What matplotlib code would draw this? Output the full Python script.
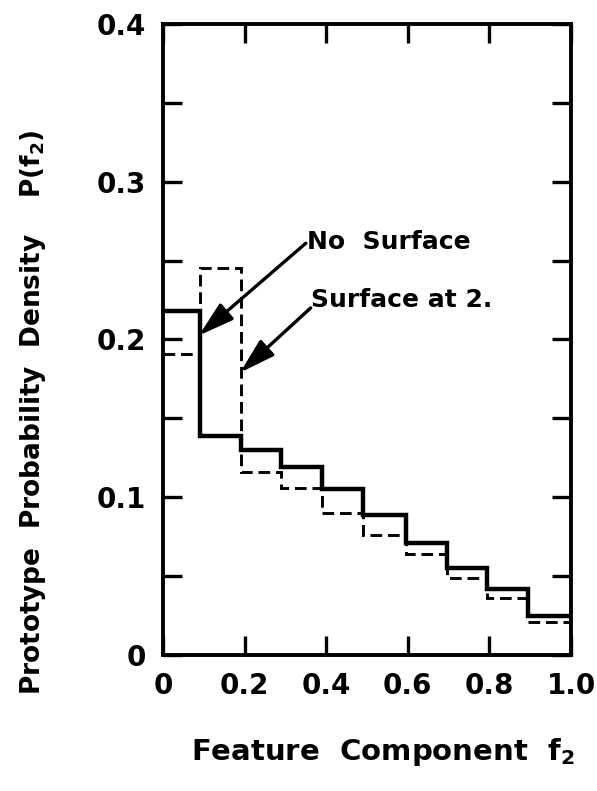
import matplotlib
matplotlib.use('Agg')
import matplotlib.pyplot as plt

plt.rcParams['font.family'] = ['DejaVu Sans']
plt.rcParams['font.weight'] = 'bold'
plt.rcParams['mathtext.fontset'] = 'dejavusans'
plt.rcParams['mathtext.default'] = 'bf'

# bin edges (hand drawn, so slightly uneven)
bin_edges = [0.0, 0.09, 0.19, 0.29, 0.39, 0.49, 0.595, 0.695, 0.795, 0.895, 1.0]
no_surface = [0.218, 0.139, 0.130, 0.119, 0.105, 0.089, 0.071, 0.055, 0.042, 0.025]
surface_at_2 = [0.191, 0.245, 0.116, 0.106, 0.090, 0.076, 0.064, 0.049, 0.036, 0.021]

x_ticks = [0, 0.2, 0.4, 0.6, 0.8, 1.0]
x_labels = ['0', '0.2', '0.4', '0.6', '0.8', '1.0']
y_ticks = [0, 0.1, 0.2, 0.3, 0.4]
y_labels = ['0', '0.1', '0.2', '0.3', '0.4']
y_minor = [0.05, 0.15, 0.25, 0.35]

fig = plt.figure(figsize=(5.97, 7.91), dpi=100)
ax = fig.add_axes([0.273, 0.172, 0.6835, 0.7977])

ax.stairs(no_surface, bin_edges, baseline=None, color='black', lw=3.2)
ax.stairs(surface_at_2, bin_edges, baseline=None, color='black', lw=2.1,
          linestyle=(0, (4, 2)))

ax.set_xlim(0, 1.0)
ax.set_ylim(0, 0.4)
ax.set_xticks(x_ticks)
ax.set_xticklabels(x_labels)
ax.set_yticks(y_ticks)
ax.set_yticklabels(y_labels)
ax.set_yticks(y_minor, minor=True)

for s in ax.spines.values():
    s.set_linewidth(2.8)

ax.tick_params(axis='both', which='both', direction='in', length=14, width=2.4,
               top=True, right=True, labelsize=20, pad=12)

# annotations
arrow = dict(arrowstyle='-|>,head_length=0.68,head_width=0.2', color='black',
             lw=2.4, mutation_scale=32, shrinkA=0, shrinkB=0)
ax.annotate('', xy=(0.088, 0.2025), xytext=(0.350, 0.261), arrowprops=arrow)
ax.annotate('', xy=(0.189, 0.179), xytext=(0.362, 0.220), arrowprops=arrow)
ax.text(0.352, 0.262, 'No  Surface', fontsize=18, va='center', ha='left')
ax.text(0.362, 0.225, 'Surface at 2.', fontsize=18, va='center', ha='left')

fig.text(383 / 597, 1 - 752 / 791, 'Feature  Component  f$_2$', fontsize=21,
         ha='center', va='center')
fig.text(33 / 597, 1 - 412 / 791, 'Prototype  Probability  Density    P(f$_2$)',
         fontsize=19, ha='center', va='center', rotation=90)

fig.savefig('out.png', dpi=100)
